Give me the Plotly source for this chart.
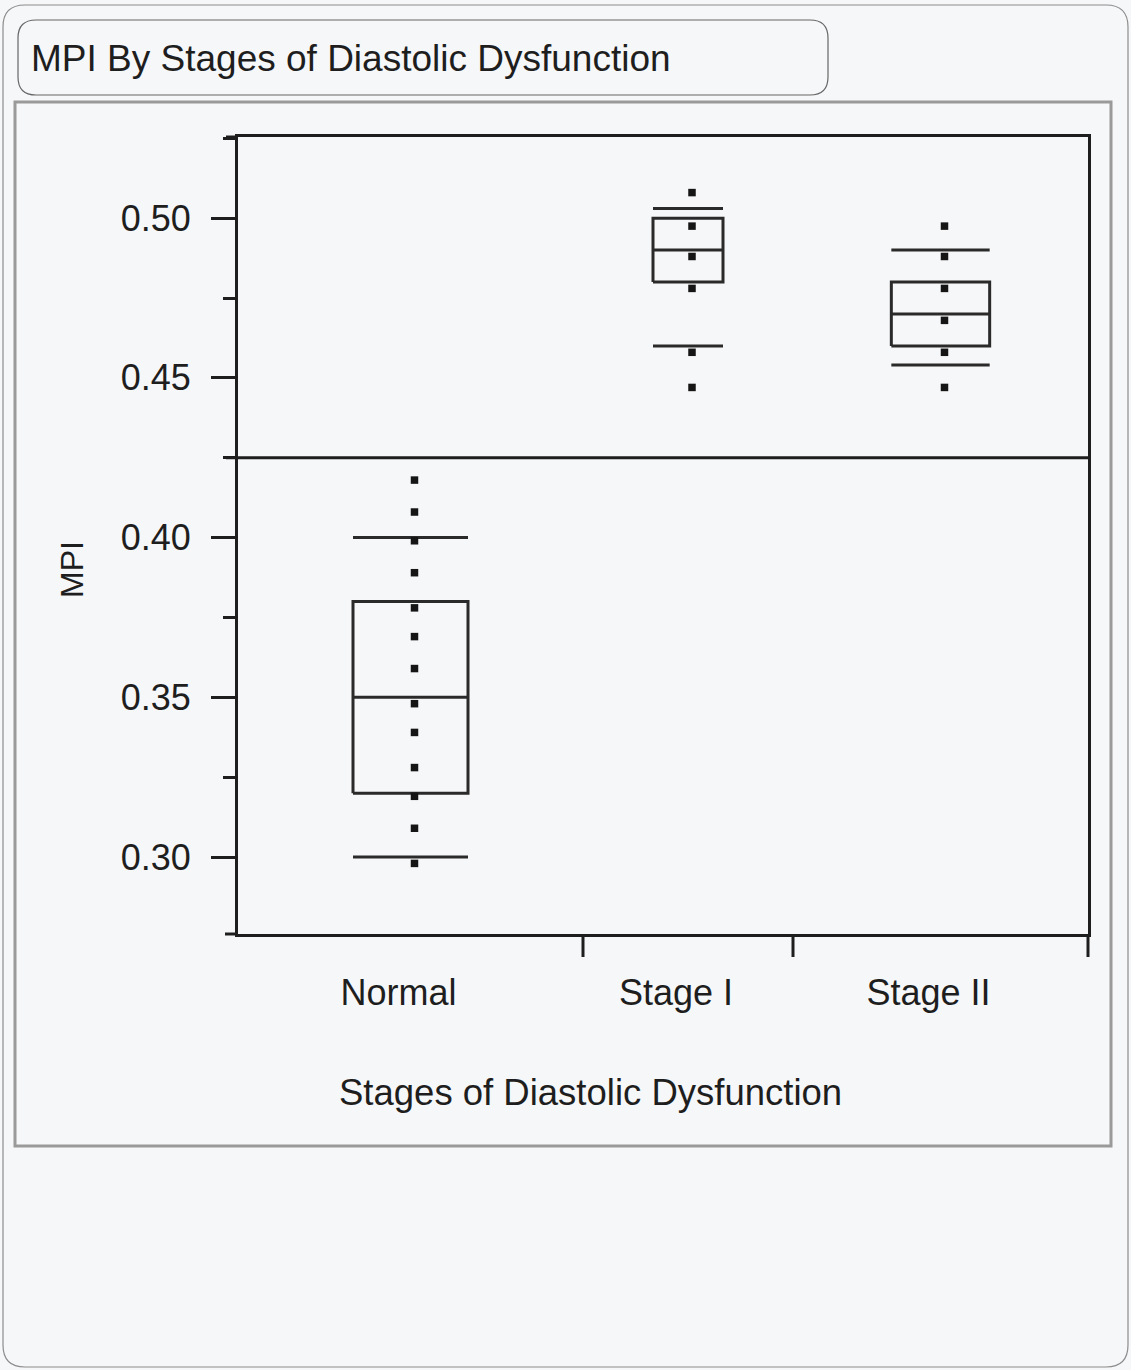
import plotly.graph_objects as go

# ---------------- data ----------------
categories = ["Normal", "Stage I", "Stage II"]
group_sizes = [345, 210, 295]          # relative group widths (JMP: proportional to N)
q1 = [0.320, 0.480, 0.460]
median = [0.350, 0.490, 0.470]
q3 = [0.380, 0.500, 0.480]
whisker_lo = [0.300, 0.460, 0.454]
whisker_hi = [0.400, 0.503, 0.490]
points_normal = [0.418, 0.408, 0.399, 0.389, 0.378, 0.369, 0.359, 0.348,
                 0.339, 0.328, 0.319, 0.309, 0.298]
points_stage1 = [0.508, 0.4975, 0.488, 0.478, 0.458, 0.447]
points_stage2 = [0.4975, 0.488, 0.478, 0.468, 0.458, 0.447]
grand_mean = 0.425
y_ticks = [0.30, 0.35, 0.40, 0.45, 0.50]
y_range = [0.2759, 0.5254]

# ---------------- layout constants ----------------
W, H = 1131, 1370
L, R, T, B = 238, 43, 137, 436
PW, PH = W - L - R, H - T - B
FONT = "Liberation Sans, Arial, Helvetica, sans-serif"
INK = "#1e1e1e"
BG = "#f6f7f9"

bounds = [0]
for s in group_sizes:
    bounds.append(bounds[-1] + s)
centers = [(bounds[i] + bounds[i + 1]) / 2 for i in range(len(group_sizes))]
half_w = [s / 6 for s in group_sizes]

fig = go.Figure()

# box outlines, medians, whisker bars
for i, cat in enumerate(categories):
    c, h = centers[i], half_w[i]
    xs = [c - h, c + h, c + h, c - h, c - h, None,
          c - h, c + h, None,
          c - h, c + h, None,
          c - h, c + h]
    ys = [q1[i], q1[i], q3[i], q3[i], q1[i], None,
          median[i], median[i], None,
          whisker_lo[i], whisker_lo[i], None,
          whisker_hi[i], whisker_hi[i]]
    fig.add_trace(go.Scatter(x=xs, y=ys, mode="lines",
                             line=dict(color="#2a2a2a", width=3),
                             hoverinfo="skip", showlegend=False))

# points
for i, pts in enumerate([points_normal, points_stage1, points_stage2]):
    fig.add_trace(go.Scatter(x=[centers[i] + 4] * len(pts), y=pts, mode="markers",
                             marker=dict(symbol="square", size=7.5, color="#151515",
                                         line=dict(width=0)),
                             showlegend=False, name=categories[i]))


def px_x(p):
    return (p - L) / PW


def px_y(p):
    return (H - B - p) / PH


def rounded_path(x0, y0, x1, y1, r):
    X = px_x
    Y = px_y
    rx = r / PW
    ry = r / PH
    a, b, c, d = X(x0), Y(y0), X(x1), Y(y1)
    return (f"M {a + rx},{b} L {c - rx},{b} Q {c},{b} {c},{b - ry} "
            f"L {c},{d + ry} Q {c},{d} {c - rx},{d} "
            f"L {a + rx},{d} Q {a},{d} {a},{d + ry} "
            f"L {a},{b - ry} Q {a},{b} {a + rx},{b} Z")


shapes = []
shapes.append(dict(type="line", xref="x domain", yref="y",
                   x0=-12 / PW, x1=1, y0=grand_mean, y1=grand_mean,
                   line=dict(color=INK, width=3)))
shapes.append(dict(type="line", xref="x domain", yref="y domain",
                   x0=-12 / PW, x1=0, y0=1, y1=1, line=dict(color=INK, width=3)))
shapes.append(dict(type="line", xref="x domain", yref="y domain",
                   x0=-13 / PW, x1=0, y0=0, y1=0, line=dict(color=INK, width=3)))
shapes.append(dict(type="line", xref="x domain", yref="y domain",
                   x0=1, x1=1, y0=0, y1=-23 / PH, line=dict(color=INK, width=3)))
for bnd in bounds[1:-1]:
    shapes.append(dict(type="line", xref="x", yref="y domain",
                       x0=bnd, x1=bnd, y0=0, y1=-23 / PH,
                       line=dict(color=INK, width=3)))
shapes.append(dict(type="rect", xref="paper", yref="paper", layer="below",
                   x0=px_x(15), x1=px_x(1111), y0=px_y(1146), y1=px_y(102),
                   line=dict(color="#9a9a9a", width=3), fillcolor="rgba(0,0,0,0)"))
shapes.append(dict(type="path", xref="paper", yref="paper", layer="below",
                   path=rounded_path(18, 20, 828, 95, 18),
                   line=dict(color="#666666", width=1.2)))
shapes.append(dict(type="path", xref="paper", yref="paper", layer="below",
                   path=rounded_path(3, 5, 1128, 1367, 22),
                   line=dict(color="#8c8c8c", width=1.2)))

annotations = [
    dict(text="MPI By Stages of Diastolic Dysfunction", xref="paper", yref="paper",
         x=px_x(29), y=px_y(58), xanchor="left", yanchor="middle", showarrow=False,
         font=dict(family=FONT, size=37, color=INK)),
    dict(text="Stages of Diastolic Dysfunction", xref="paper", yref="paper",
         x=px_x(590), y=px_y(1092), xanchor="center", yanchor="middle", showarrow=False,
         font=dict(family=FONT, size=36.5, color=INK)),
    dict(text="MPI", xref="paper", yref="paper", textangle=-90,
         x=px_x(72), y=px_y(570), xanchor="center", yanchor="middle", showarrow=False,
         font=dict(family=FONT, size=32, color=INK)),
]

fig.update_layout(
    width=W, height=H, autosize=False,
    margin=dict(l=L, r=R, t=T, b=B, pad=0),
    paper_bgcolor=BG, plot_bgcolor=BG,
    showlegend=False,
    shapes=shapes, annotations=annotations,
    font=dict(family=FONT, color=INK),
    xaxis=dict(range=[bounds[0], bounds[-1]], tickmode="array", tickvals=centers,
               ticktext=categories, ticks="", showgrid=False, zeroline=False,
               showline=True, mirror=True, linewidth=3, linecolor=INK,
               tickfont=dict(family=FONT, size=36, color=INK),
               ticklabelstandoff=25, ticklabelshift=-12, fixedrange=True),
    yaxis=dict(range=y_range, tickmode="array", tickvals=y_ticks,
               ticktext=[f"{v:.2f}" for v in y_ticks],
               ticks="outside", ticklen=24, tickwidth=3, tickcolor=INK,
               minor=dict(dtick=0.025, tick0=0, ticks="outside", ticklen=12,
                          tickwidth=3, tickcolor=INK, showgrid=False),
               showgrid=False, zeroline=False, showline=True, mirror=True,
               linewidth=3, linecolor=INK,
               tickfont=dict(family=FONT, size=36, color=INK),
               ticklabelstandoff=13, fixedrange=True),
)

fig.write_html("out.html")
